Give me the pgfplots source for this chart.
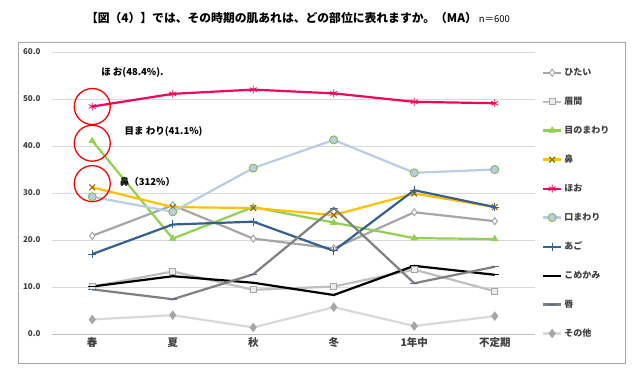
\documentclass[border=0pt]{standalone}
\usepackage{pgfplots}
\pgfplotsset{compat=1.18}
\usepackage{fontspec}
\setmainfont{Noto Sans CJK JP}
\definecolor{cHitai}{HTML}{A6A6A6}
\definecolor{cMiken}{HTML}{BFBFBF}
\definecolor{cMe}{HTML}{92D050}
\definecolor{cHana}{HTML}{FFC000}
\definecolor{cHoo}{HTML}{F0065E}
\definecolor{cKuchi}{HTML}{B9CDE5}
\definecolor{cAgo}{HTML}{376092}
\definecolor{cKuchibiru}{HTML}{808080}
\definecolor{cOther}{HTML}{D9D9D9}
\definecolor{cTxt}{HTML}{404040}
\begin{document}
\begin{tikzpicture}
\path[use as bounding box,fill=white] (0pt,0pt) rectangle (640pt,376pt);
\node[font=\fontsize{11.8}{13}\selectfont\bfseries,text=black] at (298pt,358pt) {【図（4）】では、その時期の肌あれは、どの部位に表れますか。（MA）\,{\mdseries\fontsize{9.5}{10}\selectfont n＝600}};
\begin{axis}[
  at={(92.25pt,42pt)}, anchor=origin,
  scale only axis, width=483pt, height=282pt,
  xmin=-0.5, xmax=5.5, ymin=0, ymax=60,
  xtick={0,1,2,3,4,5},
  xticklabels={春,夏,秋,冬,1年中,不定期},
  ytick={0,10,20,30,40,50,60},
  yticklabel style={/pgf/number format/fixed,/pgf/number format/fixed zerofill,/pgf/number format/precision=1,/pgf/number format/assume math mode=true,
    font=\fontsize{8}{9}\selectfont\bfseries,text=cTxt,xshift=-8pt},
  xticklabel style={font=\fontsize{10.5}{12}\selectfont\bfseries,text=cTxt},
  tick style={draw=none},
  axis lines*=left,
  x axis line style={draw=cMiken,line width=0.8pt,-},
  y axis line style={draw=none},
  ymajorgrids, grid style={draw=cOther,line width=0.9pt},
  clip=false,
  legend cell align=left,
  legend style={at={(1.008,0.957)},anchor=north west,draw=none,fill=none,
    font=\fontsize{9}{10}\selectfont\bfseries,row sep=16pt,text=cTxt},
  legend image code/.code={\draw[#1] (0pt,0pt) -- (9pt,0pt) plot coordinates {(9pt,0pt)} -- (18pt,0pt);},
]
\addplot[cHitai,line width=2.2pt,mark=diamond*,mark size=3.5pt,mark options={fill=white,draw=cHitai,line width=1pt}] coordinates {(0,20.9)(1,27.4)(2,20.3)(3,18.2)(4,25.9)(5,24.0)};
\addlegendentry{ひたい}
\addplot[cMiken,line width=2.2pt,mark=square*,mark size=3pt,mark options={fill=white!93!black,draw=cHitai,line width=1pt}] coordinates {(0,10.1)(1,13.3)(2,9.4)(3,10.1)(4,13.7)(5,9.1)};
\addlegendentry{眉間}
\addplot[cMe,line width=2.2pt,mark=triangle*,mark size=3.5pt,mark options={fill=cMe,draw=cMe,line width=0.8pt}] coordinates {(0,41.1)(1,20.3)(2,27.0)(3,23.7)(4,20.4)(5,20.2)};
\addlegendentry{目のまわり}
\addplot[cHana,line width=2.2pt,mark=x,mark size=4pt,mark options={draw=black!45!cHana,line width=1.2pt}] coordinates {(0,31.2)(1,27.0)(2,26.8)(3,25.3)(4,29.9)(5,27.0)};
\addlegendentry{鼻}
\addplot[cHoo,line width=2.2pt,mark=asterisk,mark size=4pt,mark options={draw=cHoo,line width=0.8pt}] coordinates {(0,48.4)(1,51.1)(2,52.0)(3,51.2)(4,49.4)(5,49.1)};
\addlegendentry{ほお}
\addplot[cKuchi,line width=2.2pt,mark=*,mark size=4pt,mark options={fill=cKuchi,draw=cMe!70!gray,line width=1pt}] coordinates {(0,29.2)(1,26.0)(2,35.3)(3,41.3)(4,34.3)(5,35.0)};
\addlegendentry{口まわり}
\addplot[cAgo,line width=2.2pt,mark=+,mark size=4pt,mark options={draw=cAgo,line width=1pt}] coordinates {(0,17.0)(1,23.3)(2,23.9)(3,17.7)(4,30.6)(5,27.0)};
\addlegendentry{あご}
\addplot[black,line width=2.2pt,mark=-,mark size=4pt,mark options={draw=black,line width=1pt}] coordinates {(0,10.1)(1,12.3)(2,10.9)(3,8.3)(4,14.5)(5,12.6)};
\addlegendentry{こめかみ}
\addplot[cKuchibiru,line width=2.2pt,mark=-,mark size=4pt,mark options={draw=cAgo!60!gray,line width=1pt}] coordinates {(0,9.5)(1,7.4)(2,12.7)(3,26.8)(4,10.8)(5,14.3)};
\addlegendentry{唇}
\addplot[cOther,line width=2.2pt,mark=diamond*,mark size=3pt,mark options={fill=cHitai,draw=cHitai}] coordinates {(0,3.1)(1,4.0)(2,1.4)(3,5.7)(4,1.7)(5,3.8)};
\addlegendentry{その他}
\draw[red,line width=1.3pt] (axis cs:0,48.4) circle[radius=18pt];
\draw[red,line width=1.3pt] (axis cs:0,40.6) circle[radius=18pt];
\draw[red,line width=1.3pt] (axis cs:0,32.0) circle[radius=18pt];
\node[anchor=west,font=\fontsize{9.5}{11}\selectfont\bfseries,inner sep=0pt] at (axis cs:0.11,55.7) {ほ お(48.4\%).};
\node[anchor=west,font=\fontsize{9.5}{11}\selectfont\bfseries,inner sep=0pt] at (axis cs:0.40,43.0) {目ま わり(41.1\%)};
\node[anchor=west,font=\fontsize{9.5}{11}\selectfont\bfseries,inner sep=0pt] at (axis cs:0.34,32.3) {鼻（312\%）};
\end{axis}
\draw[draw=black!35,line width=1pt] (18pt,13pt) rectangle (625pt,334pt);
\end{tikzpicture}
\end{document}
